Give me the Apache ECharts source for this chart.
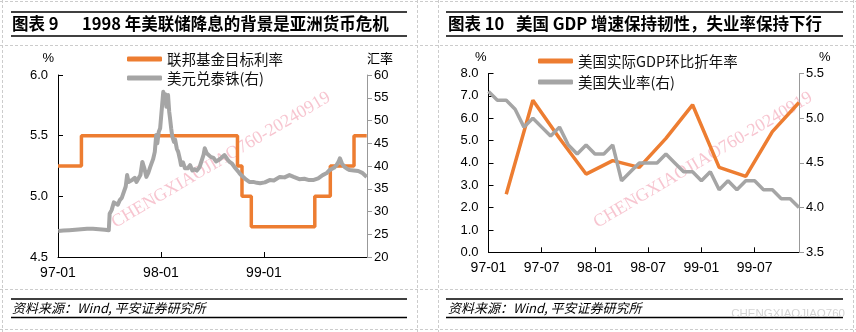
<!DOCTYPE html>
<html>
<head>
<meta charset="utf-8">
<script src="https://cdn.jsdelivr.net/npm/echarts@6/dist/echarts.min.js"></script>
<style>
html,body{margin:0;padding:0;background:#fff;}
#c{width:856px;height:332px;}
</style>
</head>
<body>
<div id="c"></div>
<script>
// ---------- Chart 9 data ----------
var fedRateName = '联邦基金目标利率';
var thbName = '美元兑泰铢(右)';
// [date, fed funds target rate %] (step changes)
var fedRate = [
  ['1997-01-01', 5.25], ['1997-03-25', 5.50], ['1998-09-29', 5.25],
  ['1998-10-15', 5.00], ['1998-11-17', 4.75], ['1999-06-30', 5.00],
  ['1999-08-24', 5.25], ['1999-11-16', 5.50], ['1999-12-31', 5.50]
];
// [date, USD/THB]
var thb = [
  ['1997-01-02',25.7],['1997-01-20',25.8],['1997-02-10',25.9],['1997-03-03',26.0],
  ['1997-03-24',26.1],['1997-04-14',26.2],['1997-05-05',26.2],['1997-05-26',26.1],
  ['1997-06-16',26.0],['1997-06-30',25.9],['1997-07-03',29.5],['1997-07-10',30.3],
  ['1997-07-18',32.0],['1997-07-25',32.3],['1997-08-01',31.5],['1997-08-08',32.5],
  ['1997-08-15',33.0],['1997-08-22',33.2],['1997-08-29',35.5],['1997-09-03',38.0],
  ['1997-09-08',36.5],['1997-09-15',36.2],['1997-09-22',37.0],['1997-09-30',37.4],
  ['1997-10-06',36.5],['1997-10-13',36.8],['1997-10-20',38.0],['1997-10-27',40.9],
  ['1997-11-03',39.5],['1997-11-10',37.6],['1997-11-17',38.5],['1997-11-24',39.8],
  ['1997-11-28',40.2],['1997-12-04',41.5],['1997-12-10',43.1],['1997-12-15',46.8],
  ['1997-12-19',45.0],['1997-12-24',47.5],['1997-12-29',48.3],['1998-01-05',53.4],
  ['1998-01-09',56.3],['1998-01-13',54.9],['1998-01-16',55.8],['1998-01-20',53.0],
  ['1998-01-26',55.6],['1998-01-30',52.0],['1998-02-02',50.5],['1998-02-06',48.3],
  ['1998-02-10',46.5],['1998-02-16',45.3],['1998-02-20',45.8],['1998-02-26',43.8],
  ['1998-03-03',43.1],['1998-03-09',41.5],['1998-03-13',40.2],['1998-03-20',40.8],
  ['1998-03-27',39.5],['1998-04-06',39.5],['1998-04-14',40.2],['1998-04-22',39.0],
  ['1998-04-30',39.3],['1998-05-08',39.0],['1998-05-18',39.8],['1998-05-25',40.2],
  ['1998-06-01',42.5],['1998-06-05',43.9],['1998-06-12',42.8],['1998-06-19',42.4],
  ['1998-06-26',42.0],['1998-07-06',41.8],['1998-07-15',41.0],['1998-07-24',41.3],
  ['1998-08-03',41.8],['1998-08-14',42.4],['1998-08-24',41.5],['1998-09-01',40.9],
  ['1998-09-10',40.5],['1998-09-18',39.8],['1998-09-25',39.5],['1998-10-05',38.5],
  ['1998-10-12',38.0],['1998-10-19',37.6],['1998-10-30',37.0],['1998-11-10',36.5],
  ['1998-11-24',36.5],['1998-12-07',36.3],['1998-12-18',36.2],['1999-01-04',36.4],
  ['1999-01-21',36.9],['1999-02-05',36.8],['1999-02-26',37.6],['1999-03-15',37.5],
  ['1999-04-01',38.0],['1999-04-16',37.6],['1999-05-06',37.1],['1999-05-24',37.2],
  ['1999-06-10',36.9],['1999-06-24',36.9],['1999-07-12',37.3],['1999-07-28',38.0],
  ['1999-08-10',38.4],['1999-08-21',39.1],['1999-09-06',39.6],['1999-09-15',40.2],
  ['1999-09-22',40.9],['1999-09-27',41.7],['1999-10-04',40.6],['1999-10-13',39.8],
  ['1999-10-22',39.4],['1999-11-01',39.1],['1999-11-15',39.0],['1999-12-01',38.9],
  ['1999-12-15',38.5],['1999-12-31',37.6]
];
var leftTicks9 = [4.5, 5.0, 5.5, 6.0];
var rightTicks9 = [20, 25, 30, 35, 40, 45, 50, 55, 60];

// ---------- Chart 10 data ----------
var gdpName = '美国实际GDP环比折年率';
var unempName = '美国失业率(右)';
var months = [
  '97-01','97-02','97-03','97-04','97-05','97-06','97-07','97-08','97-09','97-10','97-11','97-12',
  '98-01','98-02','98-03','98-04','98-05','98-06','98-07','98-08','98-09','98-10','98-11','98-12',
  '99-01','99-02','99-03','99-04','99-05','99-06','99-07','99-08','99-09','99-10','99-11','99-12'
];
// quarterly GDP growth placed at quarter-end months
var gdp = [
  null,null,2.6, null,null,6.8, null,null,5.1, null,null,3.5,
  null,null,4.1, null,null,3.8, null,null,5.1, null,null,6.6,
  null,null,3.8, null,null,3.4, null,null,5.4, null,null,6.7
];
var unemp = [
  5.3,5.2,5.2,5.1,4.9,5.0,4.9,4.8,4.9,4.7,4.6,4.7,
  4.6,4.6,4.7,4.3,4.4,4.5,4.5,4.5,4.6,4.5,4.4,4.4,
  4.3,4.4,4.2,4.3,4.2,4.3,4.3,4.2,4.2,4.1,4.1,4.0
];

// ---------- styles ----------
var ORANGE = '#ED7D31', GRAY = '#A5A5A5';
var NUM_FONT = 'Liberation Sans, Arial, sans-serif';
var CJK_FONT = '"Noto Sans CJK SC", sans-serif';

function pad2(n){ return (n < 10 ? '0' : '') + n; }
function ymLabel(v){ var d = new Date(v); return String(d.getFullYear()).slice(2) + '-' + pad2(d.getMonth() + 1); }

var YEAR_MS = 365.25 * 24 * 3600 * 1000;

function hLine(x1, x2, y, w, dash, color){
  return { type: 'line', silent: true,
    shape: { x1: x1, y1: y, x2: x2, y2: y },
    style: { stroke: color || '#000', lineWidth: w || 1, lineDash: dash || null } };
}
function vLine(x, y1, y2, dash, color){
  return { type: 'line', silent: true,
    shape: { x1: x, y1: y1, x2: x, y2: y2 },
    style: { stroke: color || '#000', lineWidth: 1, lineDash: dash || null } };
}
function txt(x, y, s, font, color, extra){
  var st = { text: s, font: font, fill: color || '#000', textVerticalAlign: 'middle', textAlign: 'left' };
  if (extra) for (var k in extra) st[k] = extra[k];
  return { type: 'text', silent: true, x: x, y: y, style: st };
}

var DASH = [3, 2], DCOL = '#cccccc';
var graphics = [
  hLine(0, 856, 1.5, 1, DASH, DCOL),
  hLine(0, 856, 45.5, 1, DASH, DCOL),
  hLine(0, 856, 289.5, 1, DASH, DCOL),
  hLine(0, 856, 329.5, 1, DASH, DCOL),
  vLine(2.5, 0, 332, DASH, DCOL),
  vLine(417.5, 0, 332, DASH, DCOL),
  vLine(438.5, 0, 332, DASH, DCOL),
  vLine(853.5, 0, 332, DASH, DCOL),
  // title rules
  hLine(11, 407, 12, 1.3), hLine(11, 407, 36, 1.3),
  hLine(446, 843, 12, 1.3), hLine(446, 843, 36, 1.3),
  // footer rules
  hLine(11, 407, 299, 1.3), hLine(11, 407, 317.5, 1.3),
  hLine(446, 843, 299, 1.3), hLine(446, 843, 317.5, 1.3),
  // titles
  txt(12, 24, '图表 9', 'bold 16.5px ' + CJK_FONT),
  txt(82, 24, '1998 年美联储降息的背景是亚洲货币危机', 'bold 16.5px ' + CJK_FONT),
  txt(448, 24, '图表 10', 'bold 16.5px ' + CJK_FONT),
  txt(516, 24, '美国 GDP 增速保持韧性，失业率保持下行', 'bold 16.5px ' + CJK_FONT),
  // footers
  txt(12, 308, '资料来源：Wind, 平安证券研究所', 'italic 13px ' + CJK_FONT),
  txt(448, 308, '资料来源：Wind, 平安证券研究所', 'italic 13px ' + CJK_FONT),
  // watermarks
  { type: 'text', silent: true, x: 221, y: 160, rotation: 0.534,
    style: { text: 'CHENGXIAOJIAO760-20240919', font: '18px "Liberation Serif", serif',
      fill: 'rgba(240,150,170,0.55)', textAlign: 'center', textVerticalAlign: 'middle' } },
  { type: 'text', silent: true, x: 703, y: 160, rotation: 0.534,
    style: { text: 'CHENGXIAOJIAO760-20240919', font: '18px "Liberation Serif", serif',
      fill: 'rgba(240,150,170,0.55)', textAlign: 'center', textVerticalAlign: 'middle' } },
  txt(845, 314, 'CHENGXIAOJIAO760', '11.5px ' + NUM_FONT, '#d4d4d4', { textAlign: 'right' })
];

var axisLblY = { fontSize: 13, color: '#000', fontFamily: NUM_FONT };

var option = {
  animation: false,
  backgroundColor: '#fff',
  textStyle: { fontFamily: NUM_FONT },
  grid: [
    { left: 58, top: 75, width: 309, height: 182, containLabel: false },
    { left: 488.5, top: 73.5, width: 310.5, height: 178.8, containLabel: false }
  ],
  legend: [
    { orient: 'vertical', left: 127, top: 50, padding: 0, itemWidth: 35, itemHeight: 5, itemGap: 1,
      icon: 'roundRect', data: [fedRateName, thbName],
      textStyle: { fontSize: 14.5, lineHeight: 18, color: '#111', fontFamily: CJK_FONT } },
    { orient: 'vertical', left: 538, top: 52, padding: 0, itemWidth: 35, itemHeight: 5, itemGap: 3,
      icon: 'roundRect', data: [gdpName, unempName],
      textStyle: { fontSize: 14.5, lineHeight: 18, color: '#111', fontFamily: CJK_FONT } }
  ],
  xAxis: [
    { type: 'time', gridIndex: 0, min: '1997-01-01', max: '2000-01-01',
      minInterval: YEAR_MS * 0.99, maxInterval: YEAR_MS * 1.01,
      axisLine: { lineStyle: { color: '#000', width: 1 } },
      axisTick: { show: true, inside: true, length: 5, lineStyle: { color: '#000' } },
      axisLabel: { formatter: ymLabel, fontSize: 14, color: '#000', margin: 9,
        showMaxLabel: false, showMinLabel: true, hideOverlap: false },
      splitLine: { show: false } },
    { type: 'category', gridIndex: 1, data: months, boundaryGap: false,
      axisLine: { lineStyle: { color: '#000', width: 1 } },
      axisTick: { show: true, inside: true, length: 5, interval: 5, lineStyle: { color: '#000' } },
      axisLabel: { interval: 5, fontSize: 14, color: '#000', margin: 9 },
      splitLine: { show: false } }
  ],
  yAxis: [
    { type: 'value', gridIndex: 0, position: 'left', min: leftTicks9[0], max: leftTicks9[leftTicks9.length - 1], interval: 0.5,
      name: '%', nameLocation: 'end', nameGap: 10,
      nameTextStyle: { align: 'right', fontSize: 13, color: '#000', padding: [0, 4, 0, 0] },
      axisLine: { show: true, lineStyle: { color: '#000' } },
      axisTick: { show: true, inside: true, length: 5, lineStyle: { color: '#000' } },
      axisLabel: Object.assign({ margin: 10, formatter: function (v) { return v.toFixed(1); } }, axisLblY),
      splitLine: { show: false } },
    { type: 'value', gridIndex: 0, position: 'right', min: rightTicks9[0], max: rightTicks9[rightTicks9.length - 1], interval: 5,
      name: '汇率', nameLocation: 'end', nameGap: 10,
      nameTextStyle: { align: 'left', fontSize: 13, color: '#000', fontFamily: CJK_FONT },
      axisLine: { show: true, lineStyle: { color: '#999' } },
      axisTick: { show: true, inside: false, length: 5, lineStyle: { color: '#999' } },
      axisLabel: Object.assign({ margin: 7 }, axisLblY),
      splitLine: { show: false } },
    { type: 'value', gridIndex: 1, position: 'left', min: 0, max: 8, interval: 1,
      name: '%', nameLocation: 'end', nameGap: 10,
      nameTextStyle: { align: 'right', fontSize: 13, color: '#000', padding: [0, 2, 0, 0] },
      axisLine: { show: true, lineStyle: { color: '#000' } },
      axisTick: { show: true, inside: true, length: 5, lineStyle: { color: '#000' } },
      axisLabel: Object.assign({ margin: 10, formatter: function (v) { return v.toFixed(1); } }, axisLblY),
      splitLine: { show: false } },
    { type: 'value', gridIndex: 1, position: 'right', min: 3.5, max: 5.5, interval: 0.5,
      name: '%', nameLocation: 'end', nameGap: 10,
      nameTextStyle: { align: 'left', fontSize: 13, color: '#000', padding: [0, 0, 0, 20] },
      axisLine: { show: true, lineStyle: { color: '#999' } },
      axisTick: { show: true, inside: false, length: 5, lineStyle: { color: '#999' } },
      axisLabel: Object.assign({ margin: 7, formatter: function (v) { return v.toFixed(1); } }, axisLblY),
      splitLine: { show: false } }
  ],
  series: [
    { name: fedRateName, type: 'line', xAxisIndex: 0, yAxisIndex: 0, step: 'end',
      data: fedRate, showSymbol: false, symbol: 'none', color: ORANGE,
      lineStyle: { color: ORANGE, width: 3.5 }, z: 2 },
    { name: thbName, type: 'line', xAxisIndex: 0, yAxisIndex: 1,
      data: thb, showSymbol: false, symbol: 'none', color: GRAY,
      lineStyle: { color: GRAY, width: 4, join: 'round' }, z: 3 },
    { name: gdpName, type: 'line', xAxisIndex: 1, yAxisIndex: 2, connectNulls: true,
      data: gdp, showSymbol: false, symbol: 'none', color: ORANGE,
      lineStyle: { color: ORANGE, width: 3.5 }, z: 2 },
    { name: unempName, type: 'line', xAxisIndex: 1, yAxisIndex: 3,
      data: unemp, showSymbol: false, symbol: 'none', color: GRAY,
      lineStyle: { color: GRAY, width: 3.5 }, z: 3 }
  ],
  graphic: graphics
};

var chart = echarts.init(document.getElementById('c'), null, { renderer: 'canvas' });
chart.setOption(option);
</script>
</body>
</html>
